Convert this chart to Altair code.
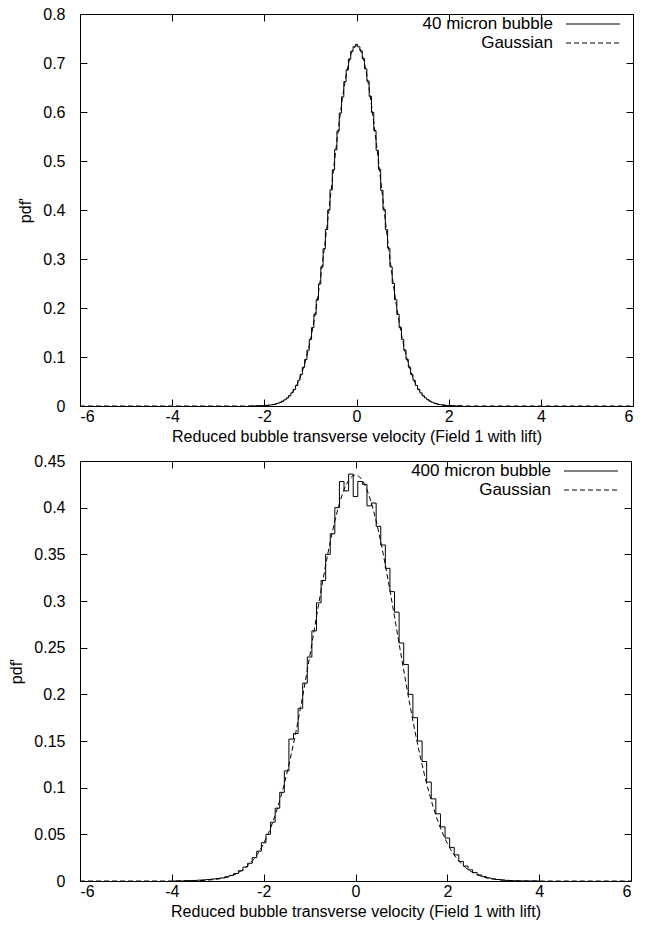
import altair as alt
import pandas as pd

FONT = "Liberation Sans"
FS = 16
TFS = 16
LFS = 17

x_ticks = [-6, -4, -2, 0, 2, 4, 6]
x_title = "Reduced bubble transverse velocity (Field 1 with lift)"

# ---- top panel: 40 micron bubble ----
top_label = "40 micron bubble"
top_y_ticks = [0, 0.1, 0.2, 0.3, 0.4, 0.5, 0.6, 0.7, 0.8]
top_hist_x = [round(-2.3 + 0.05 * i, 2) for i in range(93)]
top_hist_y = [0, 0.0001, 0.0002, 0.0003, 0.0004, 0.0006, 0.0009, 0.0012, 0.0017, 0.0023,
              0.0031, 0.0042, 0.0057, 0.0075, 0.0098, 0.0127, 0.0165, 0.0210, 0.0268, 0.0338,
              0.0420, 0.0525, 0.0645, 0.0790, 0.0950, 0.1140, 0.1360, 0.1600, 0.1870, 0.2170,
              0.2490, 0.2840, 0.3210, 0.3600, 0.4000, 0.4410, 0.4820, 0.5230, 0.5610, 0.5980,
              0.6310, 0.6620, 0.6860, 0.7080, 0.7240, 0.7330, 0.7380,
              0.7330, 0.7250, 0.7090, 0.6880, 0.6630, 0.6320, 0.5990, 0.5620, 0.5220, 0.4830,
              0.4400, 0.4010, 0.3600, 0.3220, 0.2840, 0.2500, 0.2170, 0.1870, 0.1600, 0.1360,
              0.1140, 0.0950, 0.0790, 0.0645, 0.0525, 0.0420, 0.0336, 0.0268, 0.0210, 0.0165,
              0.0127, 0.0098, 0.0075, 0.0057, 0.0042, 0.0031, 0.0023, 0.0017, 0.0012, 0.0009,
              0.0006, 0.0004, 0.0003, 0.0002, 0.0001, 0]
top_gauss_x = [-6.0] + [round(-2.5 + 0.1 * i, 1) for i in range(51)] + [6.0]
top_gauss_y = [0,
               0, 0, 0.0001, 0.0002, 0.0004, 0.0008, 0.0016, 0.0030, 0.0055, 0.0096,
               0.0162, 0.0265, 0.0418, 0.0639, 0.0944, 0.1348, 0.186, 0.248, 0.320, 0.399,
               0.481, 0.5603, 0.631, 0.6868, 0.7227, 0.735, 0.7227, 0.6868, 0.631, 0.5603,
               0.481, 0.399, 0.320, 0.248, 0.186, 0.1348, 0.0944, 0.0639, 0.0418, 0.0265,
               0.0162, 0.0096, 0.0055, 0.0030, 0.0016, 0.0008, 0.0004, 0.0002, 0.0001, 0, 0,
               0]

# ---- bottom panel: 400 micron bubble ----
bot_label = "400 micron bubble"
bot_y_ticks = [0, 0.05, 0.1, 0.15, 0.2, 0.25, 0.3, 0.35, 0.4, 0.45]
bot_hist_x = [round(-4.0 + 0.1 * i, 1) for i in range(81)]
bot_hist_y = [0, 0, 0, 0.0002, 0.0004, 0.0006, 0.0009, 0.0012, 0.0016, 0.0021,
              0.0026, 0.0033, 0.0045, 0.006, 0.008, 0.011, 0.015, 0.019, 0.025, 0.032,
              0.041, 0.050, 0.063, 0.078, 0.095, 0.118, 0.152, 0.158, 0.185, 0.212,
              0.240, 0.268, 0.298, 0.322, 0.350, 0.372, 0.400, 0.428, 0.418, 0.436,
              0.412,
              0.428, 0.425, 0.402, 0.405, 0.380, 0.360, 0.335, 0.310, 0.288, 0.255,
              0.232, 0.200, 0.175, 0.150, 0.128, 0.106, 0.088, 0.072, 0.058, 0.046,
              0.036, 0.028, 0.021, 0.016, 0.012, 0.009, 0.0065, 0.0047, 0.0033, 0.0023,
              0.0016, 0.0011, 0.0007, 0.0004, 0.0002, 0.0001, 0, 0, 0, 0]
bot_gauss_x = [-6.0] + [round(-4.0 + 0.2 * i, 1) for i in range(41)] + [6.0]
bot_gauss_y = [0,
               0, 0.0001, 0.0002, 0.0004, 0.0010, 0.0021, 0.0041, 0.0078, 0.0142, 0.0245,
               0.0403, 0.0633, 0.0950, 0.1356, 0.1848, 0.2400, 0.2973, 0.3512, 0.3955, 0.4248,
               0.435,
               0.4248, 0.3955, 0.3512, 0.2973, 0.2400, 0.1848, 0.1356, 0.0950, 0.0633, 0.0403,
               0.0245, 0.0142, 0.0078, 0.0041, 0.0021, 0.0010, 0.0004, 0.0002, 0.0001, 0,
               0]

TICK = 7
LABEL_EXPR = "'' + datum.value"
ROW1, ROW2 = 10, 29


def panel(hx, hy, gx, gy, y_ticks, ymax, label, w, h):
    xs = alt.Scale(domain=[-6, 6], nice=False, zero=False)
    ys = alt.Scale(domain=[0, ymax], nice=False, zero=False)

    hist = alt.Chart(pd.DataFrame({"v": hx, "pdf": hy})).mark_line(
        interpolate="step", color="black", strokeWidth=1
    ).encode(
        x=alt.X("v:Q", scale=xs, axis=alt.Axis(
            orient="bottom", values=x_ticks, labelExpr=LABEL_EXPR, title=x_title,
            offset=-TICK, tickSize=TICK, domain=False, grid=False,
            labelPadding=2, titlePadding=4, titleFontSize=TFS)),
        y=alt.Y("pdf:Q", scale=ys, axis=alt.Axis(
            orient="left", values=y_ticks, labelExpr=LABEL_EXPR, title="pdf'",
            offset=-TICK, tickSize=TICK, domain=False, grid=False,
            labelPadding=15, titlePadding=9)),
    )

    gauss = alt.Chart(pd.DataFrame({"v": gx, "pdf": gy})).mark_line(
        interpolate="monotone", color="black", strokeWidth=1, strokeDash=[5, 3]
    ).encode(
        x=alt.X("v:Q", scale=xs, axis=alt.Axis(
            orient="top", values=x_ticks, labels=False, title=None,
            offset=-TICK, tickSize=TICK, domain=False, grid=False)),
        y=alt.Y("pdf:Q", scale=ys, axis=alt.Axis(
            orient="right", values=y_ticks, labels=False, title=None,
            offset=-TICK, tickSize=TICK, domain=False, grid=False)),
    )

    t1 = alt.Chart(pd.DataFrame({"t": [label]})).mark_text(
        align="right", baseline="middle", font=FONT, fontSize=LFS, color="black"
    ).encode(text="t:N", x=alt.value(w - 80), y=alt.value(ROW1))
    t2 = alt.Chart(pd.DataFrame({"t": ["Gaussian"]})).mark_text(
        align="right", baseline="middle", font=FONT, fontSize=LFS, color="black"
    ).encode(text="t:N", x=alt.value(w - 80), y=alt.value(ROW2))
    r1 = alt.Chart(pd.DataFrame({"t": [label]})).mark_rule(
        color="black", strokeWidth=1
    ).encode(x=alt.value(w - 67), x2=alt.value(w - 13), y=alt.value(ROW1))
    r2 = alt.Chart(pd.DataFrame({"t": ["Gaussian"]})).mark_rule(
        color="black", strokeWidth=1, strokeDash=[5, 3]
    ).encode(x=alt.value(w - 67), x2=alt.value(w - 13), y=alt.value(ROW2))

    return alt.layer(hist, gauss, t1, t2, r1, r2).resolve_axis(
        x="independent", y="independent"
    ).properties(width=w, height=h)


top = panel(top_hist_x, top_hist_y, top_gauss_x, top_gauss_y, top_y_ticks, 0.8,
            top_label, 553, 392)
bottom = panel(bot_hist_x, bot_hist_y, bot_gauss_x, bot_gauss_y, bot_y_ticks, 0.45,
               bot_label, 551, 420)

chart = alt.concat(top, bottom, columns=1, spacing=7).properties(
    align="none",
    background="white",
    padding={"left": 8, "top": 5, "right": 12, "bottom": 5},
).configure_view(
    stroke="black", strokeWidth=1
).configure_axis(
    labelFont=FONT, titleFont=FONT, labelFontSize=FS, titleFontSize=FS,
    labelColor="black", titleColor="black", titleFontWeight="normal",
    tickColor="black", tickWidth=1
)

chart.save("out.html", embed_options={"renderer": "svg", "actions": False})
